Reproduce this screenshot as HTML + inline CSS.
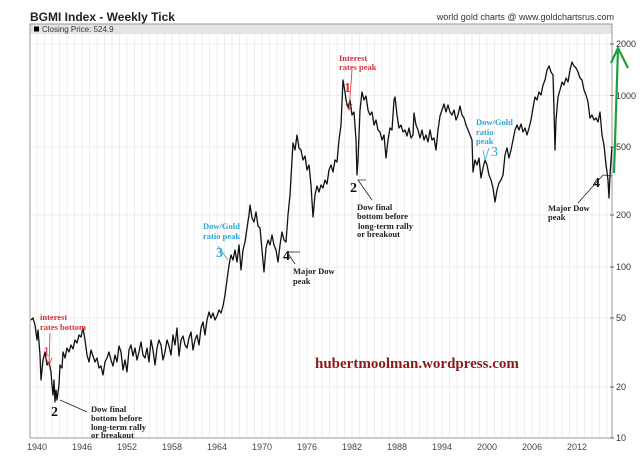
<!DOCTYPE html>
<html><head><meta charset="utf-8"><style>
html,body{margin:0;padding:0;background:#fff;}
svg{display:block;}
</style></head><body>
<svg width="643" height="466" viewBox="0 0 643 466" xmlns="http://www.w3.org/2000/svg">
<rect width="643" height="466" fill="#fff"/>
<text x="30" y="21" font-family="Liberation Sans, sans-serif" font-size="12" font-weight="bold" fill="#222">BGMI Index - Weekly Tick</text>
<text x="614" y="20" text-anchor="end" font-family="Liberation Sans, sans-serif" font-size="9" fill="#333">world gold charts @ www.goldchartsrus.com</text>
<rect x="30" y="24" width="582" height="10" fill="#e4e4e4"/>
<rect x="34" y="26.5" width="5" height="5" fill="#000"/>
<text x="42" y="32" font-family="Liberation Sans, sans-serif" font-size="8" fill="#333">Closing Price: 524.9</text>
<g stroke="#efefef" stroke-width="1" id="vg"></g>
<g stroke="#eaeaea" stroke-width="0.8">
<line x1="37" y1="34" x2="37" y2="438"/><line x1="44.5" y1="34" x2="44.5" y2="438"/><line x1="52" y1="34" x2="52" y2="438"/><line x1="59.5" y1="34" x2="59.5" y2="438"/><line x1="67" y1="34" x2="67" y2="438"/><line x1="74.5" y1="34" x2="74.5" y2="438"/><line x1="82" y1="34" x2="82" y2="438"/><line x1="89.5" y1="34" x2="89.5" y2="438"/><line x1="97" y1="34" x2="97" y2="438"/><line x1="104.5" y1="34" x2="104.5" y2="438"/><line x1="112" y1="34" x2="112" y2="438"/><line x1="119.5" y1="34" x2="119.5" y2="438"/><line x1="127" y1="34" x2="127" y2="438"/><line x1="134.5" y1="34" x2="134.5" y2="438"/><line x1="142" y1="34" x2="142" y2="438"/><line x1="149.5" y1="34" x2="149.5" y2="438"/><line x1="157" y1="34" x2="157" y2="438"/><line x1="164.5" y1="34" x2="164.5" y2="438"/><line x1="172" y1="34" x2="172" y2="438"/><line x1="179.5" y1="34" x2="179.5" y2="438"/><line x1="187" y1="34" x2="187" y2="438"/><line x1="194.5" y1="34" x2="194.5" y2="438"/><line x1="202" y1="34" x2="202" y2="438"/><line x1="209.5" y1="34" x2="209.5" y2="438"/><line x1="217" y1="34" x2="217" y2="438"/><line x1="224.5" y1="34" x2="224.5" y2="438"/><line x1="232" y1="34" x2="232" y2="438"/><line x1="239.5" y1="34" x2="239.5" y2="438"/><line x1="247" y1="34" x2="247" y2="438"/><line x1="254.5" y1="34" x2="254.5" y2="438"/><line x1="262" y1="34" x2="262" y2="438"/><line x1="269.5" y1="34" x2="269.5" y2="438"/><line x1="277" y1="34" x2="277" y2="438"/><line x1="284.5" y1="34" x2="284.5" y2="438"/><line x1="292" y1="34" x2="292" y2="438"/><line x1="299.5" y1="34" x2="299.5" y2="438"/><line x1="307" y1="34" x2="307" y2="438"/><line x1="314.5" y1="34" x2="314.5" y2="438"/><line x1="322" y1="34" x2="322" y2="438"/><line x1="329.5" y1="34" x2="329.5" y2="438"/><line x1="337" y1="34" x2="337" y2="438"/><line x1="344.5" y1="34" x2="344.5" y2="438"/><line x1="352" y1="34" x2="352" y2="438"/><line x1="359.5" y1="34" x2="359.5" y2="438"/><line x1="367" y1="34" x2="367" y2="438"/><line x1="374.5" y1="34" x2="374.5" y2="438"/><line x1="382" y1="34" x2="382" y2="438"/><line x1="389.5" y1="34" x2="389.5" y2="438"/><line x1="397" y1="34" x2="397" y2="438"/><line x1="404.5" y1="34" x2="404.5" y2="438"/><line x1="412" y1="34" x2="412" y2="438"/><line x1="419.5" y1="34" x2="419.5" y2="438"/><line x1="427" y1="34" x2="427" y2="438"/><line x1="434.5" y1="34" x2="434.5" y2="438"/><line x1="442" y1="34" x2="442" y2="438"/><line x1="449.5" y1="34" x2="449.5" y2="438"/><line x1="457" y1="34" x2="457" y2="438"/><line x1="464.5" y1="34" x2="464.5" y2="438"/><line x1="472" y1="34" x2="472" y2="438"/><line x1="479.5" y1="34" x2="479.5" y2="438"/><line x1="487" y1="34" x2="487" y2="438"/><line x1="494.5" y1="34" x2="494.5" y2="438"/><line x1="502" y1="34" x2="502" y2="438"/><line x1="509.5" y1="34" x2="509.5" y2="438"/><line x1="517" y1="34" x2="517" y2="438"/><line x1="524.5" y1="34" x2="524.5" y2="438"/><line x1="532" y1="34" x2="532" y2="438"/><line x1="539.5" y1="34" x2="539.5" y2="438"/><line x1="547" y1="34" x2="547" y2="438"/><line x1="554.5" y1="34" x2="554.5" y2="438"/><line x1="562" y1="34" x2="562" y2="438"/><line x1="569.5" y1="34" x2="569.5" y2="438"/><line x1="577" y1="34" x2="577" y2="438"/><line x1="584.5" y1="34" x2="584.5" y2="438"/><line x1="592" y1="34" x2="592" y2="438"/><line x1="599.5" y1="34" x2="599.5" y2="438"/><line x1="607" y1="34" x2="607" y2="438"/>
</g>
<g stroke="#e8e8e8" stroke-width="0.8">
<line x1="30" y1="44" x2="612" y2="44"/><line x1="30" y1="95.5" x2="612" y2="95.5"/><line x1="30" y1="147" x2="612" y2="147"/><line x1="30" y1="215" x2="612" y2="215"/><line x1="30" y1="267" x2="612" y2="267"/><line x1="30" y1="318" x2="612" y2="318"/><line x1="30" y1="387" x2="612" y2="387"/>
</g>
<rect x="30" y="24" width="582" height="414" fill="none" stroke="#999" stroke-width="1"/>
<g font-family="Liberation Sans, sans-serif" font-size="9" fill="#333">
<text x="616" y="47">2000</text><text x="616" y="99">1000</text><text x="616" y="150">500</text><text x="616" y="218">200</text><text x="616" y="270">100</text><text x="616" y="321">50</text><text x="616" y="390">20</text><text x="616" y="441">10</text>
</g>
<g stroke="#666" stroke-width="1">
<line x1="610" y1="44" x2="614" y2="44"/><line x1="610" y1="95.5" x2="614" y2="95.5"/><line x1="610" y1="147" x2="614" y2="147"/><line x1="610" y1="215" x2="614" y2="215"/><line x1="610" y1="267" x2="614" y2="267"/><line x1="610" y1="318" x2="614" y2="318"/><line x1="610" y1="387" x2="614" y2="387"/><line x1="610" y1="438" x2="614" y2="438"/>
</g>
<g font-family="Liberation Sans, sans-serif" font-size="9" fill="#444" text-anchor="middle">
<text x="37" y="450">1940</text><text x="82" y="450">1946</text><text x="127" y="450">1952</text><text x="172" y="450">1958</text><text x="217" y="450">1964</text><text x="262" y="450">1970</text><text x="307" y="450">1976</text><text x="352" y="450">1982</text><text x="397" y="450">1988</text><text x="442" y="450">1994</text><text x="487" y="450">2000</text><text x="532" y="450">2006</text><text x="577" y="450">2012</text>
</g>
<polyline fill="none" stroke="#111" stroke-width="1.3" stroke-linejoin="round" points="31,320 33,318 35,325 37,340 38,330 40,355 41,380 43,360 45,352 47,365 49,362 51,372 52,385 53,395 54,380 55,402 56,390 57,400 59,385 60,365 62,368 63,352 65,358 67,348 69,352 71,345 73,349 75,340 77,343 79,335 81,337 83,328 85,340 87,355 89,362 91,350 93,356 95,362 97,358 99,368 101,366 103,375 105,362 107,358 109,352 111,360 113,366 115,355 117,362 119,346 121,352 123,370 125,360 127,372 129,350 131,345 133,356 135,348 137,360 139,352 141,342 143,355 145,358 147,348 149,362 151,340 153,350 155,365 157,348 159,340 161,345 163,360 165,352 167,340 169,346 171,355 173,335 175,345 177,328 179,356 181,340 183,336 185,345 187,348 189,338 191,332 193,350 195,340 197,335 199,345 201,328 203,322 205,335 207,320 209,312 211,318 213,313 215,320 217,316 219,310 221,313 223,306 225,295 227,280 229,265 231,255 233,260 235,250 237,262 239,245 241,270 243,250 245,242 247,228 249,215 250,205 252,218 254,222 256,212 258,226 260,228 262,250 264,272 266,248 268,240 270,245 272,235 274,245 276,250 278,262 280,245 282,232 284,240 286,242 288,215 290,195 292,160 293,143 295,150 297,135 299,148 301,150 303,160 305,156 307,170 309,165 311,185 313,217 315,195 317,186 319,192 321,185 323,188 325,180 327,184 329,170 331,165 333,172 335,160 337,162 339,140 341,125 343,80 345,92 346,100 348,108 350,100 352,115 354,112 356,140 357,175 358,160 360,110 362,92 364,100 366,96 368,110 370,115 372,112 374,125 376,120 378,130 380,132 382,140 384,135 386,158 388,140 390,128 392,130 394,100 395,97 397,115 399,128 401,125 403,132 405,130 407,136 409,128 411,138 413,135 414,113 416,125 418,130 420,138 422,130 424,140 426,135 428,142 430,130 432,140 434,138 436,150 438,130 440,116 442,110 444,104 446,112 448,105 450,112 452,115 454,110 456,120 458,115 460,106 462,115 464,118 466,125 468,130 470,135 472,140 473,172 475,160 477,165 479,158 481,178 483,168 485,160 487,165 489,175 491,180 493,188 495,202 497,190 499,183 501,180 503,175 505,155 507,148 509,158 511,150 513,140 515,130 517,125 519,130 521,124 523,132 525,128 527,135 529,128 531,120 533,108 535,97 537,100 539,92 541,95 543,85 545,80 547,70 549,66 551,72 553,75 554,110 555,150 556,120 558,97 560,90 562,82 564,85 566,78 568,82 570,70 572,62 574,66 576,68 578,72 580,78 582,80 584,90 586,95 588,102 590,118 592,115 594,120 596,118 598,122 600,112 602,135 604,145 606,165 607,172 608,180 609,198 610,175 611,160 612,147"/>
<g font-family="Liberation Serif, serif" font-weight="bold" font-size="8.5">
<text x="40" y="320" fill="#d9303a">interest</text>
<text x="40" y="330" fill="#d9303a">rates bottom</text>
<text x="43" y="356" fill="#d9303a" font-size="14" font-weight="normal">1</text>
<text x="51" y="416" fill="#111" font-size="14">2</text>
<text x="91" y="412" fill="#222">Dow final</text>
<text x="91" y="421" fill="#222">bottom before</text>
<text x="91" y="430" fill="#222">long-term rally</text>
<text x="91" y="438" fill="#222">or breakout</text>
<text x="203" y="229" fill="#2aa7d8">Dow/Gold</text>
<text x="203" y="239" fill="#2aa7d8">ratio peak</text>
<text x="216" y="257" fill="#2aa7d8" font-size="14">3</text>
<text x="283" y="260" fill="#111" font-size="14">4</text>
<text x="293" y="274" fill="#222">Major Dow</text>
<text x="293" y="284" fill="#222">peak</text>
<text x="339" y="61" fill="#d9303a">Interest</text>
<text x="339" y="70" fill="#d9303a">rates peak</text>
<text x="344" y="92" fill="#d9303a" font-size="14">1</text>
<text x="350" y="192" fill="#111" font-size="14">2</text>
<text x="357" y="210" fill="#222">Dow final</text>
<text x="357" y="219" fill="#222">bottom before</text>
<text x="358" y="229" fill="#222">long-term rally</text>
<text x="357" y="237" fill="#222">or breakout</text>
<text x="476" y="125" fill="#2aa7d8">Dow/Gold</text>
<text x="476" y="135" fill="#2aa7d8">ratio</text>
<text x="476" y="144" fill="#2aa7d8">peak</text>
<text x="491" y="156" fill="#2aa7d8" font-size="14" font-weight="normal">3</text>
<text x="593" y="187" fill="#111" font-size="14">4</text>
<text x="548" y="211" fill="#222">Major Dow</text>
<text x="548" y="220" fill="#222">peak</text>
</g>
<g stroke-width="0.8" fill="none">
<path d="M50,333 L49,365 M46,358 L49,365 L52,358" stroke="#d9303a"/>
<path d="M87,412 L60,400" stroke="#222"/>
<path d="M218,246 L228,260" stroke="#2aa7d8"/>
<path d="M295,264 L287,252 L300,252" stroke="#222"/>
<path d="M352,70 L349,110 M346,104 L349,110 L352,104" stroke="#d9303a"/>
<path d="M372,200 L358,180 L366,180" stroke="#222"/>
<path d="M489,148 L485,160 L483,150" stroke="#2aa7d8"/>
<path d="M578,203 L603,175 L612,176" stroke="#222"/>
</g>
<path d="M614,173 L618,49 M611,63 L618,48 L628,68" stroke="#1f9e3c" stroke-width="2.2" fill="none"/>
<text x="315" y="368" font-family="Liberation Serif, serif" font-weight="bold" font-size="15" fill="#8b1a1a">hubertmoolman.wordpress.com</text>
</svg>
</body></html>
